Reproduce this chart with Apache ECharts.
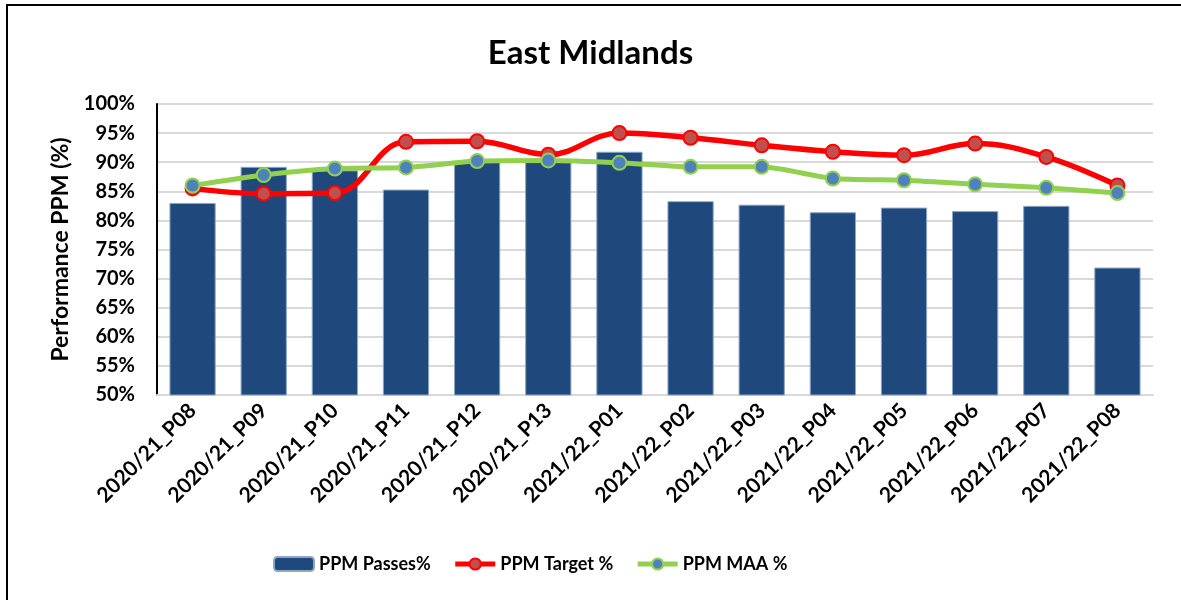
<!DOCTYPE html>
<html>
<head>
<meta charset="utf-8">
<script src="https://cdn.jsdelivr.net/npm/echarts@6/dist/echarts.min.js"></script>
<style>
  html, body { margin: 0; padding: 0; background: #fff; }
  .frame {
    position: absolute; left: 6px; top: 4px; width: 1300px; height: 700px;
    border-left: 2px solid #000; border-top: 2px solid #000;
  }
  #main { position: absolute; left: 0; top: 0; width: 1181px; height: 600px; }
</style>
</head>
<body>
<div class="frame"></div>
<div id="main"></div>
<script>
  var periods = ['2020/21_P08', '2020/21_P09', '2020/21_P10', '2020/21_P11', '2020/21_P12', '2020/21_P13',
    '2021/22_P01', '2021/22_P02', '2021/22_P03', '2021/22_P04', '2021/22_P05', '2021/22_P06',
    '2021/22_P07', '2021/22_P08'];
  var passes = [83.0, 89.2, 88.6, 85.3, 90.1, 90.4, 91.8, 83.3, 82.7, 81.4, 82.2, 81.6, 82.5, 71.9];
  var target = [85.5, 84.6, 84.7, 93.5, 93.6, 91.3, 95.0, 94.2, 92.9, 91.8, 91.2, 93.2, 90.9, 86.0];
  var maa = [86.0, 87.8, 88.9, 89.1, 90.2, 90.3, 89.9, 89.2, 89.2, 87.2, 86.9, 86.2, 85.6, 84.7];

  var font = 'Lato, "Open Sans", sans-serif';
  var chart = echarts.init(document.getElementById('main'));
  var option = {
    animation: false,
    title: {
      text: 'East Midlands',
      left: 'center',
      top: 32,
      textStyle: { fontFamily: font, fontSize: 33, fontWeight: 'bold', color: '#000' }
    },
    legend: {
      bottom: 22,
      left: 268,
      itemWidth: 40,
      itemHeight: 14,
      itemGap: 22,
      lineStyle: { width: 5 },
      textStyle: { fontFamily: font, fontSize: 18, fontWeight: 'bold', color: '#000' },
      data: ['PPM Passes%', 'PPM Target %', 'PPM MAA %']
    },
    grid: { left: 157, right: 28, top: 104, bottom: 205, containLabel: false },
    xAxis: {
      type: 'category',
      data: periods,
      axisLine: { lineStyle: { color: '#D9D9D9', width: 2 } },
      axisTick: { show: false },
      axisLabel: {
        rotate: 45, interval: 0, margin: 12,
        fontFamily: font, fontSize: 21, fontWeight: 'bold', color: '#000'
      }
    },
    yAxis: {
      type: 'value',
      min: 50, max: 100, interval: 5,
      name: 'Performance PPM (%)',
      nameLocation: 'middle',
      nameGap: 85,
      nameTextStyle: { fontFamily: font, fontSize: 23, fontWeight: 'bold', color: '#000' },
      axisLine: { show: true, lineStyle: { color: '#000', width: 2 } },
      axisTick: { show: false },
      axisLabel: {
        formatter: '{value}%',
        margin: 22,
        fontFamily: font, fontSize: 20, fontWeight: 'bold', color: '#000'
      },
      splitLine: { lineStyle: { color: '#D9D9D9', width: 2 } }
    },
    series: [
      {
        name: 'PPM Passes%',
        type: 'bar',
        data: passes,
        barCategoryGap: '35%',
        itemStyle: { color: '#1F497D', borderColor: '#8DA6C4', borderWidth: 1 }
      },
      {
        name: 'PPM Target %',
        type: 'line',
        data: target,
        smooth: 0.4,
        symbol: 'circle',
        symbolSize: 14,
        lineStyle: { color: '#FF0000', width: 5.5 },
        itemStyle: { color: '#C0504D', borderColor: '#FF0000', borderWidth: 2 }
      },
      {
        name: 'PPM MAA %',
        type: 'line',
        data: maa,
        smooth: 0.2,
        symbol: 'circle',
        symbolSize: 14,
        lineStyle: { color: '#92D050', width: 5 },
        itemStyle: { color: '#4F81BD', borderColor: '#92D050', borderWidth: 2 }
      }
    ]
  };
  chart.setOption(option);
</script>
</body>
</html>
